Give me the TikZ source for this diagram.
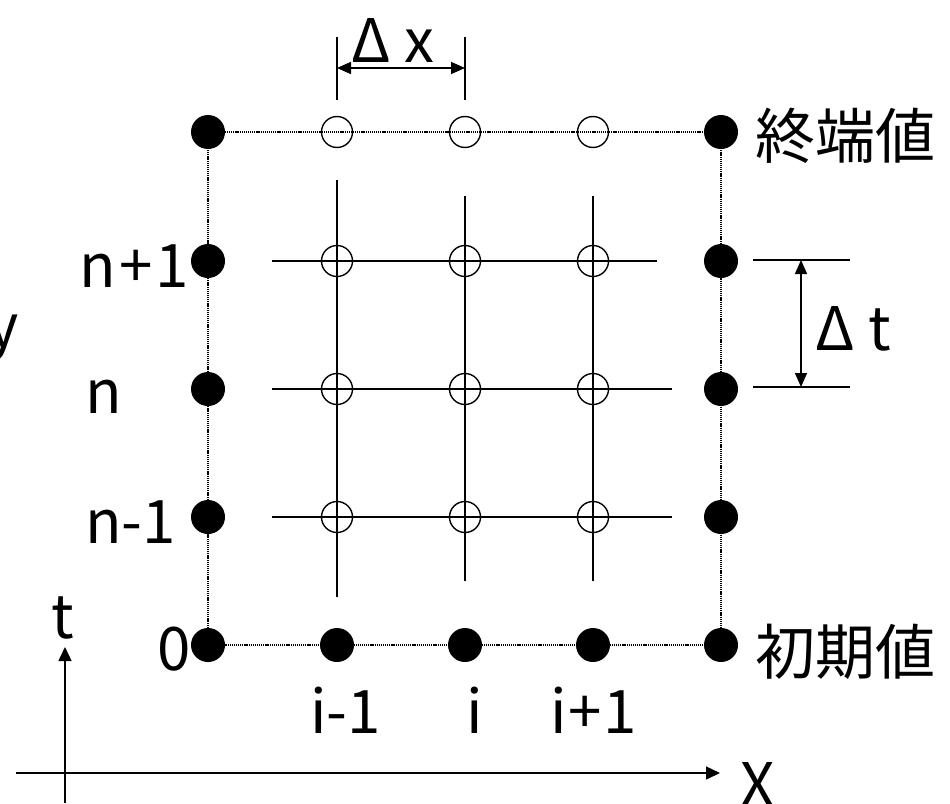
\documentclass[tikz,border=0pt]{standalone}
\usepackage{fontspec}
\setmainfont{Noto Sans CJK JP}
\usetikzlibrary{arrows.meta}
\begin{document}
\begin{tikzpicture}[x=1pt,y=-1pt,
  fdot/.style={circle,fill=black,minimum size=34pt,inner sep=0pt},
  odot/.style={circle,draw=black,line width=1.4pt,minimum size=31pt,inner sep=0pt},
  border/.style={line width=1.2pt,dash pattern=on 1.2pt off 0.9pt},
  gridline/.style={line width=1.5pt},
  tick/.style={line width=1.5pt},
  dimarrow/.style={line width=1.5pt,{Triangle[length=14pt,width=12pt]}-{Triangle[length=14pt,width=12pt]}},
  axis/.style={line width=1.5pt,-{Triangle[length=14pt,width=13pt]}},
  lab/.style={inner sep=0pt,font=\fontsize{60}{60}\selectfont},
]
\useasboundingbox (0,0) rectangle (950,803);

% coordinates of the mesh
\def\xa{208}\def\xb{337}\def\xc{465}\def\xd{593}\def\xe{721}
\def\ya{132}\def\yb{261}\def\yc{389}\def\yd{517}\def\ye{645}

% dotted boundary
\coordinate (TL) at (\xa,\ya);
\coordinate (TR) at (\xe,\ya);
\coordinate (BL) at (\xa,\ye);
\coordinate (BR) at (\xe,\ye);
\draw[border] (TL) -- (TR) -- (BR) -- (BL) -- cycle;

% grid lines
\coordinate (h1a) at (272,\yb); \coordinate (h1b) at (657,\yb);
\coordinate (h2a) at (272,\yc); \coordinate (h2b) at (672,\yc);
\coordinate (h3a) at (272,\yd); \coordinate (h3b) at (672,\yd);
\coordinate (v1a) at (\xb,180); \coordinate (v1b) at (\xb,597);
\coordinate (v2a) at (\xc,196); \coordinate (v2b) at (\xc,581);
\coordinate (v3a) at (\xd,196); \coordinate (v3b) at (\xd,581);
\draw[gridline] (h1a) -- (h1b);
\draw[gridline] (h2a) -- (h2b);
\draw[gridline] (h3a) -- (h3b);
\draw[gridline] (v1a) -- (v1b);
\draw[gridline] (v2a) -- (v2b);
\draw[gridline] (v3a) -- (v3b);

% filled dots: left and right columns
\foreach \r/\yy in {a/\ya,b/\yb,c/\yc,d/\yd,e/\ye}{
  \node[fdot] (L\r) at (\xa,\yy) {};
  \node[fdot] (R\r) at (\xe,\yy) {};
}
% filled dots: bottom row
\node[fdot] (Bb) at (\xb,\ye) {};
\node[fdot] (Bc) at (\xc,\ye) {};
\node[fdot] (Bd) at (\xd,\ye) {};
% open circles: top row
\node[odot] (Tb) at (\xb,\ya) {};
\node[odot] (Tc) at (\xc,\ya) {};
\node[odot] (Td) at (\xd,\ya) {};
% open circles: interior
\foreach \r/\yy in {b/\yb,c/\yc,d/\yd}{
  \foreach \c/\xx in {b/\xb,c/\xc,d/\xd}{
    \node[odot] (O\c\r) at (\xx,\yy) {};
  }
}

% Delta x
\coordinate (dxa1) at (\xb,37); \coordinate (dxa2) at (\xb,100);
\coordinate (dxb1) at (\xc,37); \coordinate (dxb2) at (\xc,100);
\draw[tick] (dxa1) -- (dxa2);
\draw[tick] (dxb1) -- (dxb2);
\coordinate (dxl) at (\xb,68); \coordinate (dxr) at (\xc,68);
\draw[dimarrow] (dxl) -- (dxr);
\node[lab,anchor=base west] (dxlab) at (351,62) {Δ x};

% Delta t
\coordinate (dta1) at (753,260); \coordinate (dta2) at (850,260);
\coordinate (dtb1) at (753,387); \coordinate (dtb2) at (850,387);
\draw[tick] (dta1) -- (dta2);
\draw[tick] (dtb1) -- (dtb2);
\coordinate (dtt) at (801,260); \coordinate (dtb) at (801,387);
\draw[dimarrow] (dtt) -- (dtb);
\node[lab,anchor=base west] (dtlab) at (815,350) {Δ t};

% right labels
\node[lab,anchor=base west] (term) at (755,158) {終端値};
\node[lab,anchor=base west] (init) at (755,674) {初期値};

% left labels
\node[lab,anchor=base east] (lnp) at (189,287) {n\kern3pt+\kern3pt1};
\node[lab,anchor=base west] (ln) at (85,413) {n};
\node[lab,anchor=base west] (lnm) at (85,543) {n-1};
\node[lab,anchor=base east] (l0) at (191,670) {0};
\node[lab,anchor=base east] (ly) at (19,347) {y};

% bottom labels
\node[lab,anchor=base west] (im) at (310,733) {i-1};
\node[lab,anchor=base] (ii) at (475,733) {i};
\node[lab,anchor=base west] (ip) at (550,733) {i\kern2pt+\kern2pt1};

% axes
\coordinate (tbot) at (65,803); \coordinate (ttop) at (65,647);
\coordinate (xleft) at (16,773); \coordinate (xright) at (720,773);
\draw[axis] (tbot) -- (ttop);
\draw[axis] (xleft) -- (xright);
\node[lab,anchor=base] (tlab) at (63,638) {t};
\node[lab,anchor=base west] (xlab) at (740,806) {X};
\end{tikzpicture}
\end{document}
